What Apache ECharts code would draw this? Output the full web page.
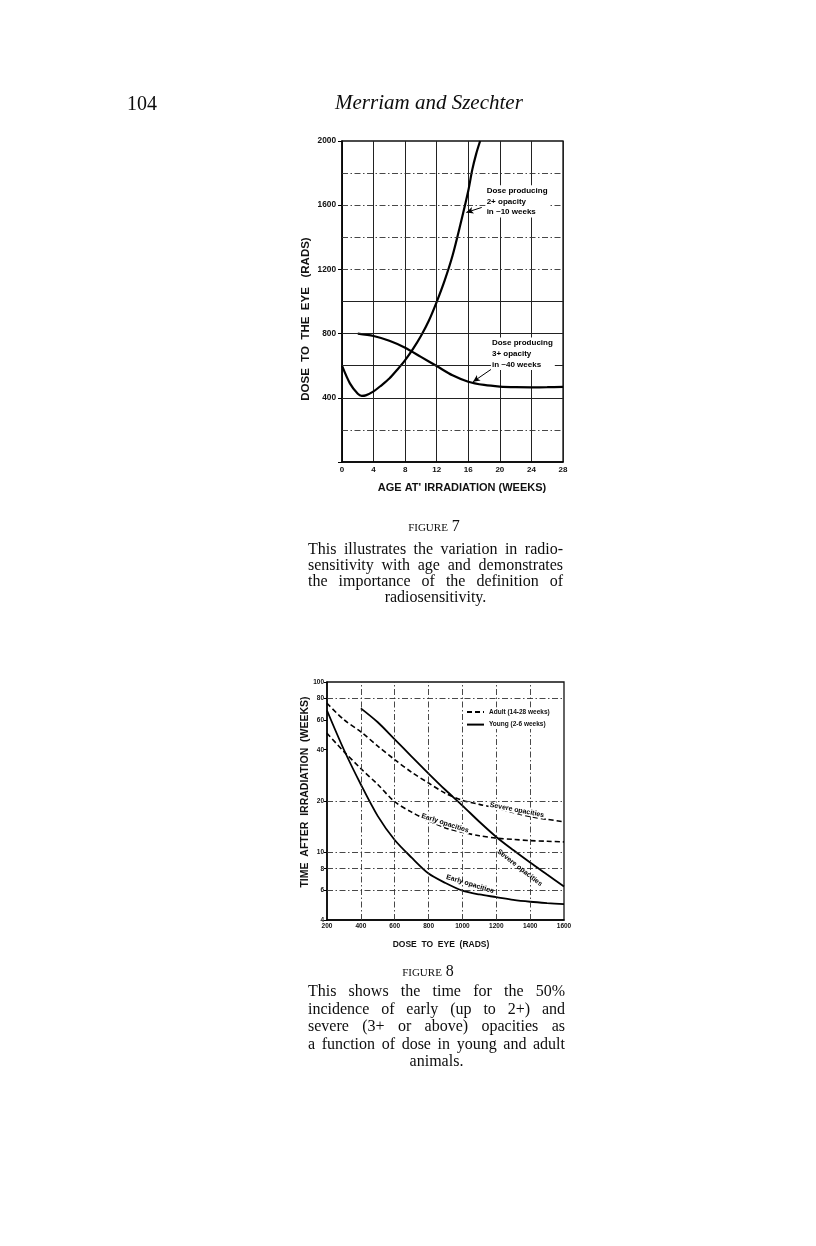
<!DOCTYPE html>
<html>
<head>
<meta charset="utf-8">
<script src="https://cdn.jsdelivr.net/npm/echarts@6/dist/echarts.min.js"></script>
<style>
html,body{margin:0;padding:0;background:#fff;}
#page{position:relative;width:816px;height:1246px;overflow:hidden;background:#fff;}
#chart{position:absolute;left:0;top:0;width:816px;height:1246px;}
.t{position:absolute;font-family:"Liberation Serif","DejaVu Serif",serif;color:#0d0d0d;white-space:nowrap;line-height:1;}
.cap{position:absolute;font-family:"Liberation Serif","DejaVu Serif",serif;color:#0d0d0d;}
.j{text-align:justify;text-align-last:justify;}
.c{text-align:center;}
.fig{position:absolute;font-family:"Liberation Serif",serif;font-variant:small-caps;color:#0d0d0d;font-size:16px;line-height:16px;text-align:center;width:200px;}
</style>
</head>
<body>
<div id="page">
  <div id="chart"></div>
  <div class="t" style="left:127px;top:93px;font-size:20px;">104</div>
  <div class="t" style="left:335px;top:92px;font-size:21px;font-style:italic;">Merriam and Szechter</div>

  <div class="fig" style="left:334px;top:518px;">figure 7</div>
  <div class="cap" style="left:308px;top:541px;width:255px;font-size:16px;line-height:16.1px;">
    <div class="j">This illustrates the variation in radio-</div>
    <div class="j">sensitivity with age and demonstrates</div>
    <div class="j">the importance of the definition of</div>
    <div class="c">radiosensitivity.</div>
  </div>

  <div class="fig" style="left:328px;top:963px;">figure 8</div>
  <div class="cap" style="left:308px;top:982px;width:257px;font-size:16px;line-height:17.6px;">
    <div class="j">This shows the time for the 50%</div>
    <div class="j">incidence of early (up to 2+) and</div>
    <div class="j">severe (3+ or above) opacities as</div>
    <div class="j">a function of dose in young and adult</div>
    <div class="c">animals.</div>
  </div>
</div>
<script>
// ---------- Figure 7 data ----------
const fig7XTicks = [0, 4, 8, 12, 16, 20, 24, 28];
const fig7YTicks = [400, 800, 1200, 1600, 2000];
const fig7SolidRows = [400, 600, 800, 1000];
const fig7DashRows = [200, 1200, 1400, 1600, 1800];
const weeks2Plus = [0, 1, 2, 2.5, 3, 4, 5, 6, 7, 8, 9, 10, 11, 12, 13, 14, 15, 16, 16.5, 17, 17.5];
const dose2Plus  = [600, 490, 425, 412, 415, 440, 478, 520, 575, 635, 705, 785, 880, 998, 1130, 1285, 1480, 1690, 1820, 1920, 2000];
const weeks3Plus = [2, 4, 6, 8, 10, 12, 14, 16, 18, 20, 22, 24, 26, 28];
const dose3Plus  = [800, 785, 755, 712, 655, 598, 540, 500, 480, 470, 466, 465, 466, 468];
const label2Plus = 'Dose producing\n2+ opacity\nin ~10 weeks';
const label3Plus = 'Dose producing\n3+ opacity\nin ~40 weeks';

// ---------- Figure 8 data ----------
const fig8XTicks = [200, 400, 600, 800, 1000, 1200, 1400, 1600];
const fig8YTicks = [4, 6, 8, 10, 20, 40, 60, 80, 100];
const fig8Cols = [400, 600, 800, 1000, 1200, 1400];
const fig8Rows = [6, 8, 10, 20, 80];
const doseRads    = [200, 300, 400, 500, 600, 700, 800, 900, 1000, 1100, 1200, 1300, 1400, 1500, 1600];
const youngEarly  = [68, 40, 25, 16.3, 11.8, 9.3, 7.5, 6.6, 5.95, 5.65, 5.45, 5.25, 5.12, 5.03, 4.96];
const adultEarly  = [50, 39, 31, 25, 19.8, 17.2, 15.3, 13.9, 13.1, 12.5, 12.1, 11.9, 11.7, 11.6, 11.5];
const adultSevere = [75, 60, 51, 42, 35, 29.5, 25.5, 22.2, 20.2, 19.1, 18.2, 17.1, 16.2, 15.6, 15.1];
const doseYoungSevere = [400, 500, 600, 700, 800, 900, 1000, 1100, 1200, 1300, 1400, 1500, 1600];
const youngSevere = [70, 58, 46, 36.5, 29, 23.2, 18.8, 15.1, 12.3, 10.3, 8.7, 7.4, 6.3];
const adultName = 'Adult (14-28 weeks)';
const youngName = 'Young (2-6 weeks)';
const curveLabel = {severe: 'Severe opacities', early: 'Early opacities'};

// ---------- styles ----------
const FONT = '"Liberation Sans", Arial, sans-serif';
const INK = '#111';
const lab = (size) => ({fontFamily: FONT, fontWeight: 'bold', color: INK, fontSize: size});
const axisLine = {show: true, onZero: false, lineStyle: {color: '#000', width: 1.5}};
const solidGrid = {color: '#222', width: 1, type: 'solid'};
const dashGrid = {color: '#333', width: 0.9, type: [6, 2.5, 1.5, 2.5]};
const zip = (xs, ys) => xs.map((x, i) => [x, ys[i]]);
const rows = (vals, style) => vals.map(v => ({yAxis: v, lineStyle: style}));
const cols = (vals, style) => vals.map(v => ({xAxis: v, lineStyle: style}));
const arrow = (from, to) => [
  {coord: from, symbol: 'none', lineStyle: {color: '#000', width: 1, type: 'solid'}},
  {coord: to, symbol: 'arrow', symbolSize: [5, 7]}
];

const chart = echarts.init(document.getElementById('chart'));

const option = {
  animation: false,
  grid: [
    {left: 342, top: 141, width: 221, height: 321, show: true, borderColor: '#111', borderWidth: 1.3, outerBoundsMode: 'none'},
    {left: 327, top: 682, width: 237, height: 238, show: true, borderColor: '#111', borderWidth: 1.3, outerBoundsMode: 'none'}
  ],
  xAxis: [
    {gridIndex: 0, type: 'value', min: fig7XTicks[0], max: fig7XTicks[fig7XTicks.length - 1], interval: 4,
     axisLine, axisTick: {show: false}, axisLabel: Object.assign(lab(8), {margin: 4, formatter: v => String(v)}),
     splitLine: {show: true, lineStyle: solidGrid}},
    {gridIndex: 1, type: 'value', min: fig8XTicks[0], max: fig8XTicks[fig8XTicks.length - 1], interval: 200,
     axisLine, axisTick: {show: false}, axisLabel: Object.assign(lab(6.5), {margin: 3, formatter: v => String(v)}),
     splitLine: {show: false}}
  ],
  yAxis: [
    {gridIndex: 0, type: 'value', min: 0, max: 2000, interval: 400,
     axisLine, axisTick: {show: true, length: 4, lineStyle: {color: '#000', width: 1}},
     axisLabel: Object.assign(lab(8.3), {margin: 6, formatter: v => fig7YTicks.includes(v) ? String(v) : ''}),
     splitLine: {show: false}},
    {gridIndex: 1, type: 'log', logBase: 10, min: fig8YTicks[0], max: fig8YTicks[fig8YTicks.length - 1],
     axisLine, axisTick: {show: true, length: 3, customValues: fig8YTicks, lineStyle: {color: '#000', width: 1}},
     axisLabel: Object.assign(lab(6.5), {margin: 3, customValues: fig8YTicks, formatter: v => String(v)}),
     splitLine: {show: false}, minorTick: {show: false}}
  ],
  legend: {
    data: [adultName, youngName], orient: 'vertical', left: 465, top: 707.5,
    itemWidth: 17, itemHeight: 7, itemGap: 5.6, selectedMode: false, z: 8,
    backgroundColor: '#fff', padding: [1, 2, 1, 1],
    itemStyle: {opacity: 0, borderWidth: 0},
    textStyle: lab(6.5)
  },
  series: [
    {name: 'fig7-2plus', type: 'line', xAxisIndex: 0, yAxisIndex: 0, data: zip(weeks2Plus, dose2Plus),
     smooth: 0.3, symbol: 'none', lineStyle: {color: '#000', width: 2.2}, z: 3,
     markLine: {silent: true, symbol: 'none', label: {show: false}, animation: false,
       data: rows(fig7SolidRows, solidGrid).concat([arrow([17.7, 1586], [15.75, 1555])])}},
    {name: 'fig7-3plus', type: 'line', xAxisIndex: 0, yAxisIndex: 0, data: zip(weeks3Plus, dose3Plus),
     smooth: 0.3, symbol: 'none', lineStyle: {color: '#000', width: 2.2}, z: 3,
     markLine: {silent: true, symbol: 'none', label: {show: false}, animation: false,
       data: rows(fig7DashRows, dashGrid).concat([arrow([18.97, 580], [16.6, 500])])}},
    {name: youngName, type: 'line', xAxisIndex: 1, yAxisIndex: 1, data: zip(doseRads, youngEarly),
     smooth: 0.3, symbol: 'none', lineStyle: {color: '#000', width: 1.8, type: 'solid'}, itemStyle: {color: '#000'}, z: 3,
     markLine: {silent: true, symbol: 'none', label: {show: false}, animation: false, data: cols(fig8Cols, dashGrid)}},
    {name: youngName, type: 'line', xAxisIndex: 1, yAxisIndex: 1, data: zip(doseYoungSevere, youngSevere),
     smooth: 0.3, symbol: 'none', lineStyle: {color: '#000', width: 1.8, type: 'solid'}, itemStyle: {color: '#000'}, z: 3,
     markLine: {silent: true, symbol: 'none', label: {show: false}, animation: false, data: rows(fig8Rows, dashGrid)}},
    {name: adultName, type: 'line', xAxisIndex: 1, yAxisIndex: 1, data: zip(doseRads, adultEarly),
     smooth: 0.3, symbol: 'none', lineStyle: {color: '#000', width: 1.6, type: [5, 3]}, itemStyle: {color: '#000'}, z: 3},
    {name: adultName, type: 'line', xAxisIndex: 1, yAxisIndex: 1, data: zip(doseRads, adultSevere),
     smooth: 0.3, symbol: 'none', lineStyle: {color: '#000', width: 1.6, type: [5, 3]}, itemStyle: {color: '#000'}, z: 3}
  ]
};
chart.setOption(option);

// ---------- annotations anchored in data coordinates ----------
const p7 = (x, y) => chart.convertToPixel({gridIndex: 0}, [x, y]);
const p8 = (x, y) => chart.convertToPixel({gridIndex: 1}, [x, y]);
const txt = (pt, text, size) => ({
  type: 'text', x: pt[0], y: pt[1], silent: true, z: 10,
  style: {text, fontFamily: FONT, fontWeight: 'bold', fontSize: size, fill: '#000', align: 'left', verticalAlign: 'top',
          lineHeight: size * 1.35, backgroundColor: '#fff', padding: [0, 2, 0, 1]}
});
const rot = (pt, text, size, deg, knockout) => ({
  type: 'text', x: pt[0], y: pt[1], rotation: -deg * Math.PI / 180, silent: true, z: 10,
  style: Object.assign({text, fontFamily: FONT, fontWeight: 'bold', fontSize: size, fill: '#000', align: 'center', verticalAlign: 'middle'},
    knockout ? {backgroundColor: '#fff', padding: [0, 1]} : {})
});
const D = Math.PI / 180;
chart.setOption({
  graphic: [
    txt(p7(18.2, 1725), label2Plus, 8),
    txt(p7(18.87, 775), label3Plus, 8),
    rot(p8(1322, 17.7), curveLabel.severe, 7, 11, true),
    rot(p8(897, 14.8), curveLabel.early, 7, 18, true),
    rot(p8(1338, 8.1), curveLabel.severe, 7, 38, false),
    rot(p8(1045, 6.5), curveLabel.early, 7, 17, false),
    // axis titles
    {type: 'text', x: 306, y: 319, rotation: 90 * D, silent: true,
     style: {text: 'DOSE  TO  THE  EYE   (RADS)', fontFamily: FONT, fontWeight: 'bold', fontSize: 11.5, fill: INK, align: 'center', verticalAlign: 'middle'}},
    {type: 'text', x: 462, y: 488, silent: true,
     style: {text: "AGE AT' IRRADIATION (WEEKS)", fontFamily: FONT, fontWeight: 'bold', fontSize: 11, fill: INK, align: 'center', verticalAlign: 'middle'}},
    {type: 'text', x: 305, y: 792, rotation: 90 * D, silent: true,
     style: {text: 'TIME  AFTER  IRRADIATION  (WEEKS)', fontFamily: FONT, fontWeight: 'bold', fontSize: 10.5, fill: INK, align: 'center', verticalAlign: 'middle'}},
    {type: 'text', x: 441, y: 945, silent: true,
     style: {text: 'DOSE  TO  EYE  (RADS)', fontFamily: FONT, fontWeight: 'bold', fontSize: 8.5, fill: INK, align: 'center', verticalAlign: 'middle'}}
  ]
});
</script>
</body>
</html>
